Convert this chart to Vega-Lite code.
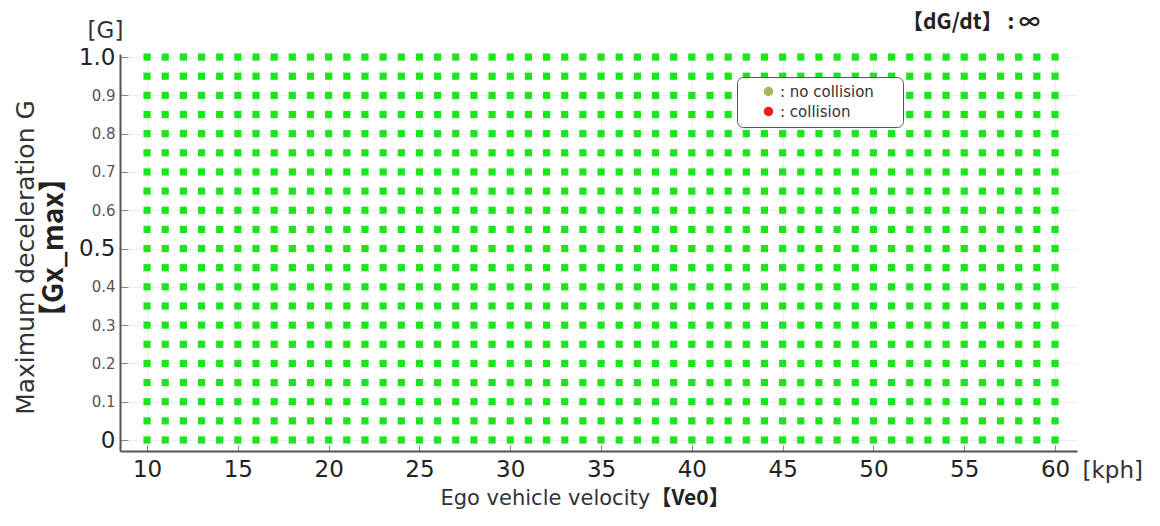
{
"$schema": "https://vega.github.io/schema/vega-lite/v6.json",
"width": 957, "height": 397,
"autosize": {"type": "none"},
"padding": {"left": 120, "top": 54, "right": 83, "bottom": 75},
"background": "white",
"config": {"view": {"stroke": null}, "font": "DejaVu Sans"},
"title": {"text": "【dG/dt】 : ∞", "anchor": "end", "frame": "group", "fontSize": 21, "fontWeight": "bold", "font": "Noto Sans CJK JP", "color": "#222", "dx": -37, "offset": -14},
"datasets": {
"key": [{"v": 10, "g": 0, "s": "no collision"}],
"grid": [
{"v":10,"g":0},{"v":11,"g":0},{"v":12,"g":0},{"v":13,"g":0},{"v":14,"g":0},{"v":15,"g":0},{"v":16,"g":0},{"v":17,"g":0},{"v":18,"g":0},{"v":19,"g":0},{"v":20,"g":0},{"v":21,"g":0},{"v":22,"g":0},{"v":23,"g":0},{"v":24,"g":0},{"v":25,"g":0},{"v":26,"g":0},{"v":27,"g":0},{"v":28,"g":0},{"v":29,"g":0},{"v":30,"g":0},{"v":31,"g":0},{"v":32,"g":0},{"v":33,"g":0},{"v":34,"g":0},{"v":35,"g":0},{"v":36,"g":0},{"v":37,"g":0},{"v":38,"g":0},{"v":39,"g":0},{"v":40,"g":0},{"v":41,"g":0},{"v":42,"g":0},{"v":43,"g":0},{"v":44,"g":0},{"v":45,"g":0},{"v":46,"g":0},{"v":47,"g":0},{"v":48,"g":0},{"v":49,"g":0},{"v":50,"g":0},{"v":51,"g":0},{"v":52,"g":0},{"v":53,"g":0},{"v":54,"g":0},{"v":55,"g":0},{"v":56,"g":0},{"v":57,"g":0},{"v":58,"g":0},{"v":59,"g":0},{"v":60,"g":0},
{"v":10,"g":0.05},{"v":11,"g":0.05},{"v":12,"g":0.05},{"v":13,"g":0.05},{"v":14,"g":0.05},{"v":15,"g":0.05},{"v":16,"g":0.05},{"v":17,"g":0.05},{"v":18,"g":0.05},{"v":19,"g":0.05},{"v":20,"g":0.05},{"v":21,"g":0.05},{"v":22,"g":0.05},{"v":23,"g":0.05},{"v":24,"g":0.05},{"v":25,"g":0.05},{"v":26,"g":0.05},{"v":27,"g":0.05},{"v":28,"g":0.05},{"v":29,"g":0.05},{"v":30,"g":0.05},{"v":31,"g":0.05},{"v":32,"g":0.05},{"v":33,"g":0.05},{"v":34,"g":0.05},{"v":35,"g":0.05},{"v":36,"g":0.05},{"v":37,"g":0.05},{"v":38,"g":0.05},{"v":39,"g":0.05},{"v":40,"g":0.05},{"v":41,"g":0.05},{"v":42,"g":0.05},{"v":43,"g":0.05},{"v":44,"g":0.05},{"v":45,"g":0.05},{"v":46,"g":0.05},{"v":47,"g":0.05},{"v":48,"g":0.05},{"v":49,"g":0.05},{"v":50,"g":0.05},{"v":51,"g":0.05},{"v":52,"g":0.05},{"v":53,"g":0.05},{"v":54,"g":0.05},{"v":55,"g":0.05},{"v":56,"g":0.05},{"v":57,"g":0.05},{"v":58,"g":0.05},{"v":59,"g":0.05},{"v":60,"g":0.05},
{"v":10,"g":0.1},{"v":11,"g":0.1},{"v":12,"g":0.1},{"v":13,"g":0.1},{"v":14,"g":0.1},{"v":15,"g":0.1},{"v":16,"g":0.1},{"v":17,"g":0.1},{"v":18,"g":0.1},{"v":19,"g":0.1},{"v":20,"g":0.1},{"v":21,"g":0.1},{"v":22,"g":0.1},{"v":23,"g":0.1},{"v":24,"g":0.1},{"v":25,"g":0.1},{"v":26,"g":0.1},{"v":27,"g":0.1},{"v":28,"g":0.1},{"v":29,"g":0.1},{"v":30,"g":0.1},{"v":31,"g":0.1},{"v":32,"g":0.1},{"v":33,"g":0.1},{"v":34,"g":0.1},{"v":35,"g":0.1},{"v":36,"g":0.1},{"v":37,"g":0.1},{"v":38,"g":0.1},{"v":39,"g":0.1},{"v":40,"g":0.1},{"v":41,"g":0.1},{"v":42,"g":0.1},{"v":43,"g":0.1},{"v":44,"g":0.1},{"v":45,"g":0.1},{"v":46,"g":0.1},{"v":47,"g":0.1},{"v":48,"g":0.1},{"v":49,"g":0.1},{"v":50,"g":0.1},{"v":51,"g":0.1},{"v":52,"g":0.1},{"v":53,"g":0.1},{"v":54,"g":0.1},{"v":55,"g":0.1},{"v":56,"g":0.1},{"v":57,"g":0.1},{"v":58,"g":0.1},{"v":59,"g":0.1},{"v":60,"g":0.1},
{"v":10,"g":0.15},{"v":11,"g":0.15},{"v":12,"g":0.15},{"v":13,"g":0.15},{"v":14,"g":0.15},{"v":15,"g":0.15},{"v":16,"g":0.15},{"v":17,"g":0.15},{"v":18,"g":0.15},{"v":19,"g":0.15},{"v":20,"g":0.15},{"v":21,"g":0.15},{"v":22,"g":0.15},{"v":23,"g":0.15},{"v":24,"g":0.15},{"v":25,"g":0.15},{"v":26,"g":0.15},{"v":27,"g":0.15},{"v":28,"g":0.15},{"v":29,"g":0.15},{"v":30,"g":0.15},{"v":31,"g":0.15},{"v":32,"g":0.15},{"v":33,"g":0.15},{"v":34,"g":0.15},{"v":35,"g":0.15},{"v":36,"g":0.15},{"v":37,"g":0.15},{"v":38,"g":0.15},{"v":39,"g":0.15},{"v":40,"g":0.15},{"v":41,"g":0.15},{"v":42,"g":0.15},{"v":43,"g":0.15},{"v":44,"g":0.15},{"v":45,"g":0.15},{"v":46,"g":0.15},{"v":47,"g":0.15},{"v":48,"g":0.15},{"v":49,"g":0.15},{"v":50,"g":0.15},{"v":51,"g":0.15},{"v":52,"g":0.15},{"v":53,"g":0.15},{"v":54,"g":0.15},{"v":55,"g":0.15},{"v":56,"g":0.15},{"v":57,"g":0.15},{"v":58,"g":0.15},{"v":59,"g":0.15},{"v":60,"g":0.15},
{"v":10,"g":0.2},{"v":11,"g":0.2},{"v":12,"g":0.2},{"v":13,"g":0.2},{"v":14,"g":0.2},{"v":15,"g":0.2},{"v":16,"g":0.2},{"v":17,"g":0.2},{"v":18,"g":0.2},{"v":19,"g":0.2},{"v":20,"g":0.2},{"v":21,"g":0.2},{"v":22,"g":0.2},{"v":23,"g":0.2},{"v":24,"g":0.2},{"v":25,"g":0.2},{"v":26,"g":0.2},{"v":27,"g":0.2},{"v":28,"g":0.2},{"v":29,"g":0.2},{"v":30,"g":0.2},{"v":31,"g":0.2},{"v":32,"g":0.2},{"v":33,"g":0.2},{"v":34,"g":0.2},{"v":35,"g":0.2},{"v":36,"g":0.2},{"v":37,"g":0.2},{"v":38,"g":0.2},{"v":39,"g":0.2},{"v":40,"g":0.2},{"v":41,"g":0.2},{"v":42,"g":0.2},{"v":43,"g":0.2},{"v":44,"g":0.2},{"v":45,"g":0.2},{"v":46,"g":0.2},{"v":47,"g":0.2},{"v":48,"g":0.2},{"v":49,"g":0.2},{"v":50,"g":0.2},{"v":51,"g":0.2},{"v":52,"g":0.2},{"v":53,"g":0.2},{"v":54,"g":0.2},{"v":55,"g":0.2},{"v":56,"g":0.2},{"v":57,"g":0.2},{"v":58,"g":0.2},{"v":59,"g":0.2},{"v":60,"g":0.2},
{"v":10,"g":0.25},{"v":11,"g":0.25},{"v":12,"g":0.25},{"v":13,"g":0.25},{"v":14,"g":0.25},{"v":15,"g":0.25},{"v":16,"g":0.25},{"v":17,"g":0.25},{"v":18,"g":0.25},{"v":19,"g":0.25},{"v":20,"g":0.25},{"v":21,"g":0.25},{"v":22,"g":0.25},{"v":23,"g":0.25},{"v":24,"g":0.25},{"v":25,"g":0.25},{"v":26,"g":0.25},{"v":27,"g":0.25},{"v":28,"g":0.25},{"v":29,"g":0.25},{"v":30,"g":0.25},{"v":31,"g":0.25},{"v":32,"g":0.25},{"v":33,"g":0.25},{"v":34,"g":0.25},{"v":35,"g":0.25},{"v":36,"g":0.25},{"v":37,"g":0.25},{"v":38,"g":0.25},{"v":39,"g":0.25},{"v":40,"g":0.25},{"v":41,"g":0.25},{"v":42,"g":0.25},{"v":43,"g":0.25},{"v":44,"g":0.25},{"v":45,"g":0.25},{"v":46,"g":0.25},{"v":47,"g":0.25},{"v":48,"g":0.25},{"v":49,"g":0.25},{"v":50,"g":0.25},{"v":51,"g":0.25},{"v":52,"g":0.25},{"v":53,"g":0.25},{"v":54,"g":0.25},{"v":55,"g":0.25},{"v":56,"g":0.25},{"v":57,"g":0.25},{"v":58,"g":0.25},{"v":59,"g":0.25},{"v":60,"g":0.25},
{"v":10,"g":0.3},{"v":11,"g":0.3},{"v":12,"g":0.3},{"v":13,"g":0.3},{"v":14,"g":0.3},{"v":15,"g":0.3},{"v":16,"g":0.3},{"v":17,"g":0.3},{"v":18,"g":0.3},{"v":19,"g":0.3},{"v":20,"g":0.3},{"v":21,"g":0.3},{"v":22,"g":0.3},{"v":23,"g":0.3},{"v":24,"g":0.3},{"v":25,"g":0.3},{"v":26,"g":0.3},{"v":27,"g":0.3},{"v":28,"g":0.3},{"v":29,"g":0.3},{"v":30,"g":0.3},{"v":31,"g":0.3},{"v":32,"g":0.3},{"v":33,"g":0.3},{"v":34,"g":0.3},{"v":35,"g":0.3},{"v":36,"g":0.3},{"v":37,"g":0.3},{"v":38,"g":0.3},{"v":39,"g":0.3},{"v":40,"g":0.3},{"v":41,"g":0.3},{"v":42,"g":0.3},{"v":43,"g":0.3},{"v":44,"g":0.3},{"v":45,"g":0.3},{"v":46,"g":0.3},{"v":47,"g":0.3},{"v":48,"g":0.3},{"v":49,"g":0.3},{"v":50,"g":0.3},{"v":51,"g":0.3},{"v":52,"g":0.3},{"v":53,"g":0.3},{"v":54,"g":0.3},{"v":55,"g":0.3},{"v":56,"g":0.3},{"v":57,"g":0.3},{"v":58,"g":0.3},{"v":59,"g":0.3},{"v":60,"g":0.3},
{"v":10,"g":0.35},{"v":11,"g":0.35},{"v":12,"g":0.35},{"v":13,"g":0.35},{"v":14,"g":0.35},{"v":15,"g":0.35},{"v":16,"g":0.35},{"v":17,"g":0.35},{"v":18,"g":0.35},{"v":19,"g":0.35},{"v":20,"g":0.35},{"v":21,"g":0.35},{"v":22,"g":0.35},{"v":23,"g":0.35},{"v":24,"g":0.35},{"v":25,"g":0.35},{"v":26,"g":0.35},{"v":27,"g":0.35},{"v":28,"g":0.35},{"v":29,"g":0.35},{"v":30,"g":0.35},{"v":31,"g":0.35},{"v":32,"g":0.35},{"v":33,"g":0.35},{"v":34,"g":0.35},{"v":35,"g":0.35},{"v":36,"g":0.35},{"v":37,"g":0.35},{"v":38,"g":0.35},{"v":39,"g":0.35},{"v":40,"g":0.35},{"v":41,"g":0.35},{"v":42,"g":0.35},{"v":43,"g":0.35},{"v":44,"g":0.35},{"v":45,"g":0.35},{"v":46,"g":0.35},{"v":47,"g":0.35},{"v":48,"g":0.35},{"v":49,"g":0.35},{"v":50,"g":0.35},{"v":51,"g":0.35},{"v":52,"g":0.35},{"v":53,"g":0.35},{"v":54,"g":0.35},{"v":55,"g":0.35},{"v":56,"g":0.35},{"v":57,"g":0.35},{"v":58,"g":0.35},{"v":59,"g":0.35},{"v":60,"g":0.35},
{"v":10,"g":0.4},{"v":11,"g":0.4},{"v":12,"g":0.4},{"v":13,"g":0.4},{"v":14,"g":0.4},{"v":15,"g":0.4},{"v":16,"g":0.4},{"v":17,"g":0.4},{"v":18,"g":0.4},{"v":19,"g":0.4},{"v":20,"g":0.4},{"v":21,"g":0.4},{"v":22,"g":0.4},{"v":23,"g":0.4},{"v":24,"g":0.4},{"v":25,"g":0.4},{"v":26,"g":0.4},{"v":27,"g":0.4},{"v":28,"g":0.4},{"v":29,"g":0.4},{"v":30,"g":0.4},{"v":31,"g":0.4},{"v":32,"g":0.4},{"v":33,"g":0.4},{"v":34,"g":0.4},{"v":35,"g":0.4},{"v":36,"g":0.4},{"v":37,"g":0.4},{"v":38,"g":0.4},{"v":39,"g":0.4},{"v":40,"g":0.4},{"v":41,"g":0.4},{"v":42,"g":0.4},{"v":43,"g":0.4},{"v":44,"g":0.4},{"v":45,"g":0.4},{"v":46,"g":0.4},{"v":47,"g":0.4},{"v":48,"g":0.4},{"v":49,"g":0.4},{"v":50,"g":0.4},{"v":51,"g":0.4},{"v":52,"g":0.4},{"v":53,"g":0.4},{"v":54,"g":0.4},{"v":55,"g":0.4},{"v":56,"g":0.4},{"v":57,"g":0.4},{"v":58,"g":0.4},{"v":59,"g":0.4},{"v":60,"g":0.4},
{"v":10,"g":0.45},{"v":11,"g":0.45},{"v":12,"g":0.45},{"v":13,"g":0.45},{"v":14,"g":0.45},{"v":15,"g":0.45},{"v":16,"g":0.45},{"v":17,"g":0.45},{"v":18,"g":0.45},{"v":19,"g":0.45},{"v":20,"g":0.45},{"v":21,"g":0.45},{"v":22,"g":0.45},{"v":23,"g":0.45},{"v":24,"g":0.45},{"v":25,"g":0.45},{"v":26,"g":0.45},{"v":27,"g":0.45},{"v":28,"g":0.45},{"v":29,"g":0.45},{"v":30,"g":0.45},{"v":31,"g":0.45},{"v":32,"g":0.45},{"v":33,"g":0.45},{"v":34,"g":0.45},{"v":35,"g":0.45},{"v":36,"g":0.45},{"v":37,"g":0.45},{"v":38,"g":0.45},{"v":39,"g":0.45},{"v":40,"g":0.45},{"v":41,"g":0.45},{"v":42,"g":0.45},{"v":43,"g":0.45},{"v":44,"g":0.45},{"v":45,"g":0.45},{"v":46,"g":0.45},{"v":47,"g":0.45},{"v":48,"g":0.45},{"v":49,"g":0.45},{"v":50,"g":0.45},{"v":51,"g":0.45},{"v":52,"g":0.45},{"v":53,"g":0.45},{"v":54,"g":0.45},{"v":55,"g":0.45},{"v":56,"g":0.45},{"v":57,"g":0.45},{"v":58,"g":0.45},{"v":59,"g":0.45},{"v":60,"g":0.45},
{"v":10,"g":0.5},{"v":11,"g":0.5},{"v":12,"g":0.5},{"v":13,"g":0.5},{"v":14,"g":0.5},{"v":15,"g":0.5},{"v":16,"g":0.5},{"v":17,"g":0.5},{"v":18,"g":0.5},{"v":19,"g":0.5},{"v":20,"g":0.5},{"v":21,"g":0.5},{"v":22,"g":0.5},{"v":23,"g":0.5},{"v":24,"g":0.5},{"v":25,"g":0.5},{"v":26,"g":0.5},{"v":27,"g":0.5},{"v":28,"g":0.5},{"v":29,"g":0.5},{"v":30,"g":0.5},{"v":31,"g":0.5},{"v":32,"g":0.5},{"v":33,"g":0.5},{"v":34,"g":0.5},{"v":35,"g":0.5},{"v":36,"g":0.5},{"v":37,"g":0.5},{"v":38,"g":0.5},{"v":39,"g":0.5},{"v":40,"g":0.5},{"v":41,"g":0.5},{"v":42,"g":0.5},{"v":43,"g":0.5},{"v":44,"g":0.5},{"v":45,"g":0.5},{"v":46,"g":0.5},{"v":47,"g":0.5},{"v":48,"g":0.5},{"v":49,"g":0.5},{"v":50,"g":0.5},{"v":51,"g":0.5},{"v":52,"g":0.5},{"v":53,"g":0.5},{"v":54,"g":0.5},{"v":55,"g":0.5},{"v":56,"g":0.5},{"v":57,"g":0.5},{"v":58,"g":0.5},{"v":59,"g":0.5},{"v":60,"g":0.5},
{"v":10,"g":0.55},{"v":11,"g":0.55},{"v":12,"g":0.55},{"v":13,"g":0.55},{"v":14,"g":0.55},{"v":15,"g":0.55},{"v":16,"g":0.55},{"v":17,"g":0.55},{"v":18,"g":0.55},{"v":19,"g":0.55},{"v":20,"g":0.55},{"v":21,"g":0.55},{"v":22,"g":0.55},{"v":23,"g":0.55},{"v":24,"g":0.55},{"v":25,"g":0.55},{"v":26,"g":0.55},{"v":27,"g":0.55},{"v":28,"g":0.55},{"v":29,"g":0.55},{"v":30,"g":0.55},{"v":31,"g":0.55},{"v":32,"g":0.55},{"v":33,"g":0.55},{"v":34,"g":0.55},{"v":35,"g":0.55},{"v":36,"g":0.55},{"v":37,"g":0.55},{"v":38,"g":0.55},{"v":39,"g":0.55},{"v":40,"g":0.55},{"v":41,"g":0.55},{"v":42,"g":0.55},{"v":43,"g":0.55},{"v":44,"g":0.55},{"v":45,"g":0.55},{"v":46,"g":0.55},{"v":47,"g":0.55},{"v":48,"g":0.55},{"v":49,"g":0.55},{"v":50,"g":0.55},{"v":51,"g":0.55},{"v":52,"g":0.55},{"v":53,"g":0.55},{"v":54,"g":0.55},{"v":55,"g":0.55},{"v":56,"g":0.55},{"v":57,"g":0.55},{"v":58,"g":0.55},{"v":59,"g":0.55},{"v":60,"g":0.55},
{"v":10,"g":0.6},{"v":11,"g":0.6},{"v":12,"g":0.6},{"v":13,"g":0.6},{"v":14,"g":0.6},{"v":15,"g":0.6},{"v":16,"g":0.6},{"v":17,"g":0.6},{"v":18,"g":0.6},{"v":19,"g":0.6},{"v":20,"g":0.6},{"v":21,"g":0.6},{"v":22,"g":0.6},{"v":23,"g":0.6},{"v":24,"g":0.6},{"v":25,"g":0.6},{"v":26,"g":0.6},{"v":27,"g":0.6},{"v":28,"g":0.6},{"v":29,"g":0.6},{"v":30,"g":0.6},{"v":31,"g":0.6},{"v":32,"g":0.6},{"v":33,"g":0.6},{"v":34,"g":0.6},{"v":35,"g":0.6},{"v":36,"g":0.6},{"v":37,"g":0.6},{"v":38,"g":0.6},{"v":39,"g":0.6},{"v":40,"g":0.6},{"v":41,"g":0.6},{"v":42,"g":0.6},{"v":43,"g":0.6},{"v":44,"g":0.6},{"v":45,"g":0.6},{"v":46,"g":0.6},{"v":47,"g":0.6},{"v":48,"g":0.6},{"v":49,"g":0.6},{"v":50,"g":0.6},{"v":51,"g":0.6},{"v":52,"g":0.6},{"v":53,"g":0.6},{"v":54,"g":0.6},{"v":55,"g":0.6},{"v":56,"g":0.6},{"v":57,"g":0.6},{"v":58,"g":0.6},{"v":59,"g":0.6},{"v":60,"g":0.6},
{"v":10,"g":0.65},{"v":11,"g":0.65},{"v":12,"g":0.65},{"v":13,"g":0.65},{"v":14,"g":0.65},{"v":15,"g":0.65},{"v":16,"g":0.65},{"v":17,"g":0.65},{"v":18,"g":0.65},{"v":19,"g":0.65},{"v":20,"g":0.65},{"v":21,"g":0.65},{"v":22,"g":0.65},{"v":23,"g":0.65},{"v":24,"g":0.65},{"v":25,"g":0.65},{"v":26,"g":0.65},{"v":27,"g":0.65},{"v":28,"g":0.65},{"v":29,"g":0.65},{"v":30,"g":0.65},{"v":31,"g":0.65},{"v":32,"g":0.65},{"v":33,"g":0.65},{"v":34,"g":0.65},{"v":35,"g":0.65},{"v":36,"g":0.65},{"v":37,"g":0.65},{"v":38,"g":0.65},{"v":39,"g":0.65},{"v":40,"g":0.65},{"v":41,"g":0.65},{"v":42,"g":0.65},{"v":43,"g":0.65},{"v":44,"g":0.65},{"v":45,"g":0.65},{"v":46,"g":0.65},{"v":47,"g":0.65},{"v":48,"g":0.65},{"v":49,"g":0.65},{"v":50,"g":0.65},{"v":51,"g":0.65},{"v":52,"g":0.65},{"v":53,"g":0.65},{"v":54,"g":0.65},{"v":55,"g":0.65},{"v":56,"g":0.65},{"v":57,"g":0.65},{"v":58,"g":0.65},{"v":59,"g":0.65},{"v":60,"g":0.65},
{"v":10,"g":0.7},{"v":11,"g":0.7},{"v":12,"g":0.7},{"v":13,"g":0.7},{"v":14,"g":0.7},{"v":15,"g":0.7},{"v":16,"g":0.7},{"v":17,"g":0.7},{"v":18,"g":0.7},{"v":19,"g":0.7},{"v":20,"g":0.7},{"v":21,"g":0.7},{"v":22,"g":0.7},{"v":23,"g":0.7},{"v":24,"g":0.7},{"v":25,"g":0.7},{"v":26,"g":0.7},{"v":27,"g":0.7},{"v":28,"g":0.7},{"v":29,"g":0.7},{"v":30,"g":0.7},{"v":31,"g":0.7},{"v":32,"g":0.7},{"v":33,"g":0.7},{"v":34,"g":0.7},{"v":35,"g":0.7},{"v":36,"g":0.7},{"v":37,"g":0.7},{"v":38,"g":0.7},{"v":39,"g":0.7},{"v":40,"g":0.7},{"v":41,"g":0.7},{"v":42,"g":0.7},{"v":43,"g":0.7},{"v":44,"g":0.7},{"v":45,"g":0.7},{"v":46,"g":0.7},{"v":47,"g":0.7},{"v":48,"g":0.7},{"v":49,"g":0.7},{"v":50,"g":0.7},{"v":51,"g":0.7},{"v":52,"g":0.7},{"v":53,"g":0.7},{"v":54,"g":0.7},{"v":55,"g":0.7},{"v":56,"g":0.7},{"v":57,"g":0.7},{"v":58,"g":0.7},{"v":59,"g":0.7},{"v":60,"g":0.7},
{"v":10,"g":0.75},{"v":11,"g":0.75},{"v":12,"g":0.75},{"v":13,"g":0.75},{"v":14,"g":0.75},{"v":15,"g":0.75},{"v":16,"g":0.75},{"v":17,"g":0.75},{"v":18,"g":0.75},{"v":19,"g":0.75},{"v":20,"g":0.75},{"v":21,"g":0.75},{"v":22,"g":0.75},{"v":23,"g":0.75},{"v":24,"g":0.75},{"v":25,"g":0.75},{"v":26,"g":0.75},{"v":27,"g":0.75},{"v":28,"g":0.75},{"v":29,"g":0.75},{"v":30,"g":0.75},{"v":31,"g":0.75},{"v":32,"g":0.75},{"v":33,"g":0.75},{"v":34,"g":0.75},{"v":35,"g":0.75},{"v":36,"g":0.75},{"v":37,"g":0.75},{"v":38,"g":0.75},{"v":39,"g":0.75},{"v":40,"g":0.75},{"v":41,"g":0.75},{"v":42,"g":0.75},{"v":43,"g":0.75},{"v":44,"g":0.75},{"v":45,"g":0.75},{"v":46,"g":0.75},{"v":47,"g":0.75},{"v":48,"g":0.75},{"v":49,"g":0.75},{"v":50,"g":0.75},{"v":51,"g":0.75},{"v":52,"g":0.75},{"v":53,"g":0.75},{"v":54,"g":0.75},{"v":55,"g":0.75},{"v":56,"g":0.75},{"v":57,"g":0.75},{"v":58,"g":0.75},{"v":59,"g":0.75},{"v":60,"g":0.75},
{"v":10,"g":0.8},{"v":11,"g":0.8},{"v":12,"g":0.8},{"v":13,"g":0.8},{"v":14,"g":0.8},{"v":15,"g":0.8},{"v":16,"g":0.8},{"v":17,"g":0.8},{"v":18,"g":0.8},{"v":19,"g":0.8},{"v":20,"g":0.8},{"v":21,"g":0.8},{"v":22,"g":0.8},{"v":23,"g":0.8},{"v":24,"g":0.8},{"v":25,"g":0.8},{"v":26,"g":0.8},{"v":27,"g":0.8},{"v":28,"g":0.8},{"v":29,"g":0.8},{"v":30,"g":0.8},{"v":31,"g":0.8},{"v":32,"g":0.8},{"v":33,"g":0.8},{"v":34,"g":0.8},{"v":35,"g":0.8},{"v":36,"g":0.8},{"v":37,"g":0.8},{"v":38,"g":0.8},{"v":39,"g":0.8},{"v":40,"g":0.8},{"v":41,"g":0.8},{"v":42,"g":0.8},{"v":43,"g":0.8},{"v":44,"g":0.8},{"v":45,"g":0.8},{"v":46,"g":0.8},{"v":47,"g":0.8},{"v":48,"g":0.8},{"v":49,"g":0.8},{"v":50,"g":0.8},{"v":51,"g":0.8},{"v":52,"g":0.8},{"v":53,"g":0.8},{"v":54,"g":0.8},{"v":55,"g":0.8},{"v":56,"g":0.8},{"v":57,"g":0.8},{"v":58,"g":0.8},{"v":59,"g":0.8},{"v":60,"g":0.8},
{"v":10,"g":0.85},{"v":11,"g":0.85},{"v":12,"g":0.85},{"v":13,"g":0.85},{"v":14,"g":0.85},{"v":15,"g":0.85},{"v":16,"g":0.85},{"v":17,"g":0.85},{"v":18,"g":0.85},{"v":19,"g":0.85},{"v":20,"g":0.85},{"v":21,"g":0.85},{"v":22,"g":0.85},{"v":23,"g":0.85},{"v":24,"g":0.85},{"v":25,"g":0.85},{"v":26,"g":0.85},{"v":27,"g":0.85},{"v":28,"g":0.85},{"v":29,"g":0.85},{"v":30,"g":0.85},{"v":31,"g":0.85},{"v":32,"g":0.85},{"v":33,"g":0.85},{"v":34,"g":0.85},{"v":35,"g":0.85},{"v":36,"g":0.85},{"v":37,"g":0.85},{"v":38,"g":0.85},{"v":39,"g":0.85},{"v":40,"g":0.85},{"v":41,"g":0.85},{"v":42,"g":0.85},{"v":43,"g":0.85},{"v":44,"g":0.85},{"v":45,"g":0.85},{"v":46,"g":0.85},{"v":47,"g":0.85},{"v":48,"g":0.85},{"v":49,"g":0.85},{"v":50,"g":0.85},{"v":51,"g":0.85},{"v":52,"g":0.85},{"v":53,"g":0.85},{"v":54,"g":0.85},{"v":55,"g":0.85},{"v":56,"g":0.85},{"v":57,"g":0.85},{"v":58,"g":0.85},{"v":59,"g":0.85},{"v":60,"g":0.85},
{"v":10,"g":0.9},{"v":11,"g":0.9},{"v":12,"g":0.9},{"v":13,"g":0.9},{"v":14,"g":0.9},{"v":15,"g":0.9},{"v":16,"g":0.9},{"v":17,"g":0.9},{"v":18,"g":0.9},{"v":19,"g":0.9},{"v":20,"g":0.9},{"v":21,"g":0.9},{"v":22,"g":0.9},{"v":23,"g":0.9},{"v":24,"g":0.9},{"v":25,"g":0.9},{"v":26,"g":0.9},{"v":27,"g":0.9},{"v":28,"g":0.9},{"v":29,"g":0.9},{"v":30,"g":0.9},{"v":31,"g":0.9},{"v":32,"g":0.9},{"v":33,"g":0.9},{"v":34,"g":0.9},{"v":35,"g":0.9},{"v":36,"g":0.9},{"v":37,"g":0.9},{"v":38,"g":0.9},{"v":39,"g":0.9},{"v":40,"g":0.9},{"v":41,"g":0.9},{"v":42,"g":0.9},{"v":43,"g":0.9},{"v":44,"g":0.9},{"v":45,"g":0.9},{"v":46,"g":0.9},{"v":47,"g":0.9},{"v":48,"g":0.9},{"v":49,"g":0.9},{"v":50,"g":0.9},{"v":51,"g":0.9},{"v":52,"g":0.9},{"v":53,"g":0.9},{"v":54,"g":0.9},{"v":55,"g":0.9},{"v":56,"g":0.9},{"v":57,"g":0.9},{"v":58,"g":0.9},{"v":59,"g":0.9},{"v":60,"g":0.9},
{"v":10,"g":0.95},{"v":11,"g":0.95},{"v":12,"g":0.95},{"v":13,"g":0.95},{"v":14,"g":0.95},{"v":15,"g":0.95},{"v":16,"g":0.95},{"v":17,"g":0.95},{"v":18,"g":0.95},{"v":19,"g":0.95},{"v":20,"g":0.95},{"v":21,"g":0.95},{"v":22,"g":0.95},{"v":23,"g":0.95},{"v":24,"g":0.95},{"v":25,"g":0.95},{"v":26,"g":0.95},{"v":27,"g":0.95},{"v":28,"g":0.95},{"v":29,"g":0.95},{"v":30,"g":0.95},{"v":31,"g":0.95},{"v":32,"g":0.95},{"v":33,"g":0.95},{"v":34,"g":0.95},{"v":35,"g":0.95},{"v":36,"g":0.95},{"v":37,"g":0.95},{"v":38,"g":0.95},{"v":39,"g":0.95},{"v":40,"g":0.95},{"v":41,"g":0.95},{"v":42,"g":0.95},{"v":43,"g":0.95},{"v":44,"g":0.95},{"v":45,"g":0.95},{"v":46,"g":0.95},{"v":47,"g":0.95},{"v":48,"g":0.95},{"v":49,"g":0.95},{"v":50,"g":0.95},{"v":51,"g":0.95},{"v":52,"g":0.95},{"v":53,"g":0.95},{"v":54,"g":0.95},{"v":55,"g":0.95},{"v":56,"g":0.95},{"v":57,"g":0.95},{"v":58,"g":0.95},{"v":59,"g":0.95},{"v":60,"g":0.95},
{"v":10,"g":1},{"v":11,"g":1},{"v":12,"g":1},{"v":13,"g":1},{"v":14,"g":1},{"v":15,"g":1},{"v":16,"g":1},{"v":17,"g":1},{"v":18,"g":1},{"v":19,"g":1},{"v":20,"g":1},{"v":21,"g":1},{"v":22,"g":1},{"v":23,"g":1},{"v":24,"g":1},{"v":25,"g":1},{"v":26,"g":1},{"v":27,"g":1},{"v":28,"g":1},{"v":29,"g":1},{"v":30,"g":1},{"v":31,"g":1},{"v":32,"g":1},{"v":33,"g":1},{"v":34,"g":1},{"v":35,"g":1},{"v":36,"g":1},{"v":37,"g":1},{"v":38,"g":1},{"v":39,"g":1},{"v":40,"g":1},{"v":41,"g":1},{"v":42,"g":1},{"v":43,"g":1},{"v":44,"g":1},{"v":45,"g":1},{"v":46,"g":1},{"v":47,"g":1},{"v":48,"g":1},{"v":49,"g":1},{"v":50,"g":1},{"v":51,"g":1},{"v":52,"g":1},{"v":53,"g":1},{"v":54,"g":1},{"v":55,"g":1},{"v":56,"g":1},{"v":57,"g":1},{"v":58,"g":1},{"v":59,"g":1},{"v":60,"g":1}
]
},
"layer": [
{
"data": {"name": "grid"},
"mark": {"type": "point", "shape": "square", "filled": true, "size": 52, "color": "#1de51d", "opacity": 1},
"encoding": {
"x": {"field": "v", "type": "quantitative", "scale": {"domain": [8.51, 61.21], "nice": false, "zero": false},
"axis": {"orient": "bottom", "values": [10, 15, 20, 25, 30, 35, 40, 45, 50, 55, 60], "title": "Ego vehicle velocity", "titleX": 320, "titleY": 47, "titleAlign": "left", "titleBaseline": "middle", "titleAngle": 0, "titleFontSize": 21, "titleFontWeight": "normal", "titleColor": "#333", "titleFont": "DejaVu Sans", "labelFontSize": 23, "labelColor": "#222", "labelFont": "DejaVu Sans", "labelPadding": 13, "labelFlush": false, "tickSize": -6, "tickColor": "#888", "domainColor": "#555", "domainWidth": 2, "grid": true, "gridColor": "#efefef"}},
"y": {"field": "g", "type": "quantitative", "scale": {"domain": [-0.0287, 1.008], "nice": false, "zero": false},
"axis": {"orient": "left", "values": [0, 0.1, 0.2, 0.3, 0.4, 0.5, 0.6, 0.7, 0.8, 0.9, 1], "format": ".1f", "labelExpr": "datum.value == 0 ? '0' : datum.label",
"labelFontSize": {"condition": {"test": "datum.value == 0 || datum.value == 0.5 || datum.value == 1", "value": 23}, "value": 15},
"labelColor": {"condition": {"test": "datum.value == 0 || datum.value == 0.5 || datum.value == 1", "value": "#222"}, "value": "#555"},
"labelFont": "DejaVu Sans", "labelPadding": 13, "labelFlush": false, "tickSize": -8, "tickColor": "#888", "domainColor": "#555", "domainWidth": 2, "grid": true, "gridColor": "#efefef",
"title": "Maximum deceleration G", "titleX": -95, "titleY": 203, "titleAngle": -90, "titleAlign": "center", "titleBaseline": "middle", "titleFontSize": 25, "titleFontWeight": "normal", "titleColor": "#333", "titleFont": "DejaVu Sans"}}
}
},
{
"data": {"name": "key"},
"mark": {"type": "point", "filled": true, "opacity": 0},
"encoding": {
"x": {"field": "v", "type": "quantitative", "scale": {"domain": [8.51, 61.21], "nice": false, "zero": false},
"axis": {"orient": "bottom", "labels": false, "ticks": false, "domain": false, "grid": false, "title": "【Ve0】", "titleX": 530, "titleY": 47, "titleAlign": "left", "titleBaseline": "middle", "titleAngle": 0, "titleFontSize": 21, "titleFontWeight": "bold", "titleColor": "#222", "titleFont": "Noto Sans CJK JP"}},
"y": {"field": "g", "type": "quantitative", "scale": {"domain": [-0.0287, 1.008], "nice": false, "zero": false},
"axis": {"orient": "left", "labels": false, "ticks": false, "domain": false, "grid": false, "title": "【Gx_max】", "titleX": -66, "titleY": 193, "titleAngle": -90, "titleAlign": "center", "titleBaseline": "middle", "titleFontSize": 28, "titleFontWeight": "bold", "titleColor": "#222", "titleFont": "Noto Sans CJK JP"}},
"fill": {"field": "s", "type": "nominal", "scale": {"domain": ["no collision", "collision"], "range": ["#9bbb59", "#ee1c1c"]},
"legend": {"orient": "none", "legendX": 617, "legendY": 23, "title": null, "fillColor": "white", "strokeColor": "#555", "cornerRadius": 6, "padding": 7, "symbolType": "circle", "symbolSize": 90, "symbolOpacity": 1, "symbolStrokeWidth": 0, "symbolOffset": 17, "labelFontSize": 15, "labelColor": "#333", "labelFont": "DejaVu Sans", "labelExpr": "': ' + datum.label + '\u2800\u2800'", "rowPadding": 4}}
}
},
{
"data": {"name": "key"},
"mark": {"type": "point", "opacity": 0},
"encoding": {
"x": {"field": "v", "type": "quantitative", "scale": {"domain": [8.51, 61.21], "nice": false, "zero": false},
"axis": {"orient": "bottom", "labels": false, "ticks": false, "domain": false, "grid": false, "title": "[kph]", "titleX": 962, "titleY": 19, "titleAlign": "left", "titleBaseline": "middle", "titleAngle": 0, "titleFontSize": 23, "titleFontWeight": "normal", "titleColor": "#333", "titleFont": "DejaVu Sans"}},
"y": {"field": "g", "type": "quantitative", "scale": {"domain": [-0.0287, 1.008], "nice": false, "zero": false},
"axis": {"orient": "left", "labels": false, "ticks": false, "domain": false, "grid": false, "title": "[G]", "titleX": -15, "titleY": -24, "titleAngle": 0, "titleAlign": "center", "titleBaseline": "middle", "titleFontSize": 23, "titleFontWeight": "normal", "titleColor": "#333", "titleFont": "DejaVu Sans"}}
}
}
],
"resolve": {"scale": {"x": "independent", "y": "independent"}}
}
